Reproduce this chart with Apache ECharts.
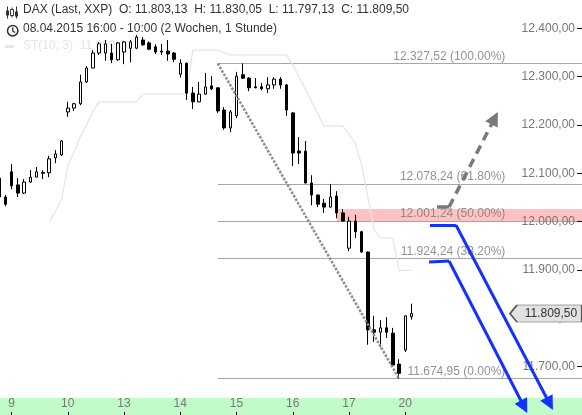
<!DOCTYPE html>
<html><head><meta charset="utf-8">
<script src="https://cdn.jsdelivr.net/npm/echarts@6/dist/echarts.min.js"></script>
<style>html,body{margin:0;padding:0;background:#fff}#c{width:582px;height:415px}</style>
</head><body><div id="c"></div>
<script>
// Hourly candles, 08.04.2015 16:00 ... 20.04.2015 10:00 (index = candle number)
const opens  = [12090,12051,12103,12076,12059,12082,12092,12100,12101,12132,12138,12227,12235,12244,12289,12318,12349,12349,12349,12335,12351,12359,12359,12376,12370,12362,12351,12353,12349,12305,12328,12266,12248,12264,12281,12277,12231,12194,12219,12304,12297,12279,12279,12275,12283,12295,12283,12225,12146,12146,12080,12055,12038,12030,12053,12018,11945,12001,11979,11937,11776,11771,11780,11769,11705,11734,11803.13];
const closes = [12051,12036,12074,12059,12082,12092,12103,12102,12130,12140,12167,12235,12244,12289,12318,12349,12368,12368,12335,12370,12372,12372,12382,12366,12357,12351,12353,12347,12336,12328,12266,12248,12264,12279,12275,12229,12194,12227,12301,12297,12277,12277,12275,12283,12295,12283,12231,12142,12142,12080,12055,12036,12030,12051,12018,12001,12001,11979,11937,11776,11771,11780,11771,11703,11686,11805,11809.50];
const lows   = [12045,12032,12067,12051,12057,12080,12092,12088,12092,12121,12136,12217,12229,12241,12287,12318,12345,12333,12328,12333,12326,12330,12357,12364,12355,12347,12345,12333,12330,12298,12252,12233,12247,12263,12272,12225,12190,12185,12214,12295,12270,12276,12272,12266,12275,12275,12219,12115,12119,12079,12034,12030,12018,12029,12007,12000,11939,11966,11936,11745,11751,11740,11759,11699,11674.95,11730,11797.13];
const highs  = [12096,12055,12119,12090,12088,12107,12113,12106,12136,12148,12169,12248,12246,12304,12322,12355,12372,12376,12368,12372,12374,12376,12386,12382,12373,12367,12368,12376,12351,12336,12329,12279,12289,12308,12301,12278,12237,12231,12310,12327.52,12299,12297,12287,12299,12299,12299,12285,12227,12175,12167,12096,12056,12047,12078,12063,12026,12010,12014,11981,11938,11805,11796,11802,11780,11715,11806,11830.05];
// SuperTrend ST(10,3) values per candle (null = not drawn)
const stValues = [null,null,null,null,null,null,null,null,11999,12020,12045,12115,12144,12175,12200,12227,12248,12248,12248,12248,12248,12248,12248,12264,12264,12264,12264,12264,12264,12264,12264,12355,12355,12355,12355,12355,12349,12345,12345,12345,12345,12345,12345,12345,12345,12345,12345,12325,12299,12275,12248,12223,12198,12198,12198,12198,12181,12161,12119,12051,11983,11966,11966,11966,11899,11899,11899];
// x axis: first candle of each trading day
const dayTickIndex = [2,11,20,29,38,47,56,65];
const dayLabels = ['9','10','13','14','15','16','17','20'];
const yTicks = [11700,11800,11900,12000,12100,12200,12300,12400];
// Fibonacci retracement
const fibLevels = [12327.52,12078.24,12001.24,11924.24,11674.95];
const fibPercents = ['100.00%','61.80%','50.00%','38.20%','0.00%'];
const fibStartIdx = 35, fibLowIdx = 64, fibLabelIdx = 81;
const zoneLow = 11999, zoneHigh = 12026, zoneStartIdx = 54;
// drawn arrows (candle index, price)
const blueArrowA = [[68.95,11993],[73.1,11993],[88.1,11622.8]];
const blueArrowB = [[68.8,11916.4],[72.0,11918.4],[84.0,11616.6]];
const grayArrow  = [[70.07,12030.2],[72.0,12030.2],[79.3,12214.1]];
const lastPriceIdx = 87.5;

const X_MIN = 0.16, X_MAX = 93.27;
const Y_MIN = 11599.6, Y_MAX = 12458.8, AXIS_BAND_TOP = 11634.8;

function fmt(v){
  const s = v.toFixed(2).split('.');
  return s[0].replace(/\B(?=(\d{3})+(?!\d))/g,'.') + ',' + s[1];
}
const FONT = "'Liberation Sans', Arial, sans-serif";
const last = opens.length-1;
const stLast = stValues[stValues.length-1];

const chart = echarts.init(document.getElementById('c'), null, {renderer:'canvas'});
function seg(a,b,color,width,type,head){
  return [{coord:a,symbol:'none',lineStyle:{color:color,width:width,type:type}},
          {coord:b,symbol:head?'triangle':'none',symbolSize:14,itemStyle:{color:color}}];
}

chart.setOption({
  animation:false,
  backgroundColor:'#fff',
  textStyle:{fontFamily:FONT},
  grid:{left:0,right:0,top:0,bottom:0},
  xAxis:{type:'value',min:X_MIN,max:X_MAX,z:10,axisLine:{show:false},splitLine:{show:false},
    axisTick:{show:true,inside:true,length:3,lineStyle:{color:'#000'},customValues:dayTickIndex},
    axisLabel:{show:true,inside:true,margin:5,color:'#777',fontSize:12,fontFamily:FONT,customValues:dayTickIndex,
      formatter:v=>dayLabels[dayTickIndex.indexOf(Math.round(v))]}},
  yAxis:{type:'value',position:'right',min:Y_MIN,max:Y_MAX,z:10,axisLine:{show:false},splitLine:{show:false},
    axisTick:{show:true,inside:true,length:5,lineStyle:{color:'#000'},customValues:yTicks},
    axisLabel:{show:true,inside:true,margin:7,color:'#777',fontSize:12,fontFamily:FONT,customValues:yTicks,formatter:fmt}},
  graphic:[
    {type:'text',left:23,top:4,z:100,style:{text:'DAX (Last, XXP)  O: '+fmt(opens[last])+'  H: '+fmt(highs[last])+'  L: '+fmt(lows[last])+'  C: '+fmt(closes[last]),font:'12px '+FONT,fill:'#333'}},
    {type:'text',left:23,top:23,z:100,style:{text:'08.04.2015 16:00 - 10:00 (2 Wochen, 1 Stunde)',font:'12px '+FONT,fill:'#333'}},
    {type:'text',left:23,top:40,z:1,style:{text:'ST(10, 3)  '+fmt(stLast),font:'12px '+FONT,fill:'#e6e6e6'}},
    {type:'rect',left:5,top:45,z:1,shape:{width:9,height:3},style:{fill:'#e6e6e6'}},
    {type:'group',left:5,top:4,z:100,children:[
      {type:'line',shape:{x1:1.5,y1:0,x2:1.5,y2:12},style:{stroke:'#333',lineWidth:1}},
      {type:'rect',shape:{x:0,y:4,width:3,height:5},style:{fill:'#333'}},
      {type:'line',shape:{x1:6,y1:1,x2:6,y2:11},style:{stroke:'#333',lineWidth:1}},
      {type:'rect',shape:{x:4.5,y:3,width:3,height:6},style:{fill:'#fff',stroke:'#333',lineWidth:1}},
      {type:'line',shape:{x1:10.5,y1:0,x2:10.5,y2:12},style:{stroke:'#333',lineWidth:1}},
      {type:'rect',shape:{x:9,y:5,width:3,height:5},style:{fill:'#333'}}
    ]},
    {type:'group',left:5,top:23,z:100,children:[
      {type:'circle',shape:{cx:6,cy:6,r:5.2},style:{fill:'none',stroke:'#333',lineWidth:1.5}},
      {type:'polyline',shape:{points:[[6,2.8],[6,6.3],[8.5,7.8]]},style:{fill:'none',stroke:'#333',lineWidth:1.3}}
    ]}
  ],
  series:[
    {type:'line',name:'bands',data:[],z:1,silent:true,
      markArea:{silent:true,z:1,data:[
        [{coord:[X_MIN,Y_MIN],itemStyle:{color:'#c1fbc9'}},{coord:[X_MAX,AXIS_BAND_TOP]}],
        [{coord:[zoneStartIdx,zoneLow],itemStyle:{color:'#ffc2c2'}},{coord:[X_MAX,zoneHigh]}]
      ]},
      markLine:{silent:true,z:2,symbol:['none','none'],label:{show:false},lineStyle:{color:'#a6a6a6',width:1,type:'solid'},
        data:fibLevels.map(v=>[{coord:[fibStartIdx,v]},{coord:[X_MAX,v]}])}
    },
    {type:'line',name:'ST',data:stValues.map((v,i)=>[i,v]).filter(p=>p[1]!==null),symbol:'none',z:2,silent:true,
      lineStyle:{color:'#e6e6e6',width:1.3}},
    {type:'scatter',name:'fibLabels',z:12,silent:true,symbolSize:0,
      data:fibLevels.map((v,i)=>({value:[fibLabelIdx,v],label:{formatter:fmt(v)+' ('+fibPercents[i]+')'}})),
      label:{show:true,position:'left',distance:0,offset:[0,-7],color:'#777',fontSize:12,fontFamily:FONT}},
    {type:'candlestick',name:'DAX',data:opens.map((o,i)=>[i,o,closes[i],lows[i],highs[i]]),barWidth:3,z:30,
      itemStyle:{color:'#fff',color0:'#000',borderColor:'#000',borderColor0:'#000',borderWidth:1},
      markPoint:{silent:true,z:40,data:[{coord:[lastPriceIdx,closes[last]],
        symbol:'path://M0,8.5 L7,0 L72,0 L72,17 L7,17 Z',symbolSize:[72,17],symbolKeepAspect:false,
        itemStyle:{color:'#e2e2e2',borderColor:'#555',borderWidth:1},
        label:{show:true,position:'inside',offset:[5,0],formatter:fmt(closes[last]),color:'#333',fontSize:12,fontFamily:FONT}}]}
    },
    {type:'line',name:'drawings',data:[],z:41,silent:true,
      markLine:{silent:true,z:41,symbol:['none','none'],label:{show:false},
        data:[
          seg([fibStartIdx,fibLevels[0]],[fibLowIdx,fibLevels[4]],'#8c8c8c',2.5,[2.5,1.5],false),
          seg(grayArrow[0],grayArrow[1],'#7d7874',3.5,'solid',false),
          seg(grayArrow[1],grayArrow[2],'#7d7874',3.5,[9,6],true),
          seg(blueArrowA[0],blueArrowA[1],'#1432ff',3,'solid',false),
          seg(blueArrowA[1],blueArrowA[2],'#1432ff',3,'solid',true),
          seg(blueArrowB[0],blueArrowB[1],'#1432ff',3,'solid',false),
          seg(blueArrowB[1],blueArrowB[2],'#1432ff',3,'solid',true)
        ]}
    }
  ]
});
</script></body></html>
